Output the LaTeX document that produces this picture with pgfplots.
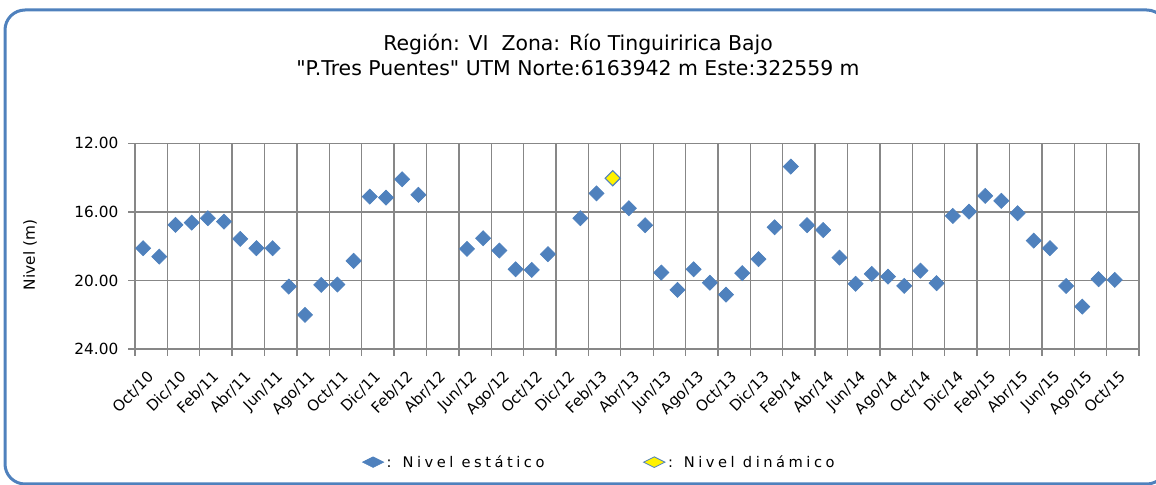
\documentclass[border=0pt]{standalone}
\usepackage{fontspec}
\setmainfont{DejaVu Sans}
\newfontfamily\plainfont{DejaVu Sans}
\usepackage{pgfplots}
\pgfplotsset{compat=1.18}
\definecolor{serieblue}{HTML}{4F81BD}
\definecolor{gridgray}{HTML}{878787}
\definecolor{frameblue}{HTML}{4F81BD}

% Nivel estático: month index (0 = Oct/10), depth in m
\pgfplotstableread{
m  nivel
0  18.12
1  18.61
2  16.76
3  16.63
4  16.37
5  16.57
6  17.58
7  18.12
8  18.12
9  20.36
10 22.01
11 20.26
12 20.24
13 18.86
14 15.11
15 15.17
16 14.10
17 15.01
20 18.16
21 17.54
22 18.26
23 19.35
24 19.39
25 18.47
27 16.37
28 14.92
30 15.79
31 16.78
32 19.54
33 20.55
34 19.35
35 20.13
36 20.83
37 19.58
38 18.76
39 16.90
40 13.36
41 16.78
42 17.06
43 18.67
44 20.20
45 19.62
46 19.78
47 20.32
48 19.43
49 20.16
50 16.24
51 15.99
52 15.07
53 15.36
54 16.08
55 17.68
56 18.12
57 20.32
58 21.53
59 19.93
60 19.97
}\estatico

% Nivel dinámico
\pgfplotstableread{
m  nivel
29 14.04
}\dinamico

\begin{document}
\begin{tikzpicture}
\path[use as bounding box] (0pt,0pt) rectangle (867pt,363.75pt);
\clip (0pt,0pt) rectangle (867pt,363.75pt);
\draw[frameblue, line width=2.25pt, rounded corners=15pt] (3.75pt,0.75pt) rectangle (875pt,356.25pt);

\node[align=center, font=\plainfont\fontsize{15.3}{18.75}\selectfont] at (433.5pt,322.3pt)
  {Región: VI\ \ Zona: Río Tinguiririca Bajo\\"P.Tres Puentes" UTM Norte:6163942 m Este:322559 m};

\node[rotate=90, font=\fontsize{11.5}{13}\selectfont] at (22.5pt,172.5pt) {Nivel (m)};

\begin{axis}[
  at={(101.25pt,102pt)}, anchor=south west,
  scale only axis, width=753pt, height=154.3pt,
  xmin=-0.5, xmax=61.5, ymin=12, ymax=24, y dir=reverse,
  xtick={-0.5,1.5,...,61.5},
  x tick label as interval,
  xticklabels={Oct/10,Dic/10,Feb/11,Abr/11,Jun/11,Ago/11,Oct/11,Dic/11,Feb/12,Abr/12,Jun/12,Ago/12,Oct/12,Dic/12,Feb/13,Abr/13,Jun/13,Ago/13,Oct/13,Dic/13,Feb/14,Abr/14,Jun/14,Ago/14,Oct/14,Dic/14,Feb/15,Abr/15,Jun/15,Ago/15,Oct/15},
  ytick={12,16,20,24},
  xtick pos=left, ytick pos=left,
  grid=major, grid style={gridgray, line width=1pt},
  axis line style={gridgray, line width=1pt},
  tick style={gridgray, line width=1pt},
  tick align=outside, major tick length=5pt,
  /pgf/number format/assume math mode=true,
  yticklabel style={font=\fontsize{11.5}{13}\selectfont, xshift=-4pt,
    /pgf/number format/.cd, fixed, fixed zerofill, precision=2},
  xticklabel style={font=\fontsize{11.3}{13}\selectfont, rotate=45, anchor=east, inner sep=0pt},
  xticklabel shift=14pt,
  legend columns=2,
  legend style={draw=none, at={(0.222,-0.55)}, anchor=west,
    font=\fontsize{11}{13}\selectfont\addfontfeatures{LetterSpace=24},
    /tikz/every even column/.append style={column sep=72pt}},
]
\addplot[only marks, mark=square*, mark size=4pt,
  mark options={rotate=45, fill=serieblue, draw=serieblue, line width=0.5pt},
  legend image code/.code={\filldraw[fill=serieblue, draw=serieblue] (0pt,0pt) -- (8pt,4pt) -- (16pt,0pt) -- (8pt,-4pt) -- cycle;}]
  table[x=m, y=nivel] {\estatico};
\addlegendentry{: Nivel estático}
\addplot[only marks, mark=square*, mark size=4pt,
  mark options={rotate=45, fill=yellow, draw=serieblue, line width=0.8pt},
  legend image code/.code={\filldraw[fill=yellow, draw=serieblue, line width=0.6pt] (0pt,0pt) -- (8pt,4pt) -- (16pt,0pt) -- (8pt,-4pt) -- cycle;}]
  table[x=m, y=nivel] {\dinamico};
\addlegendentry{: Nivel dinámico}
\end{axis}
\end{tikzpicture}
\end{document}
